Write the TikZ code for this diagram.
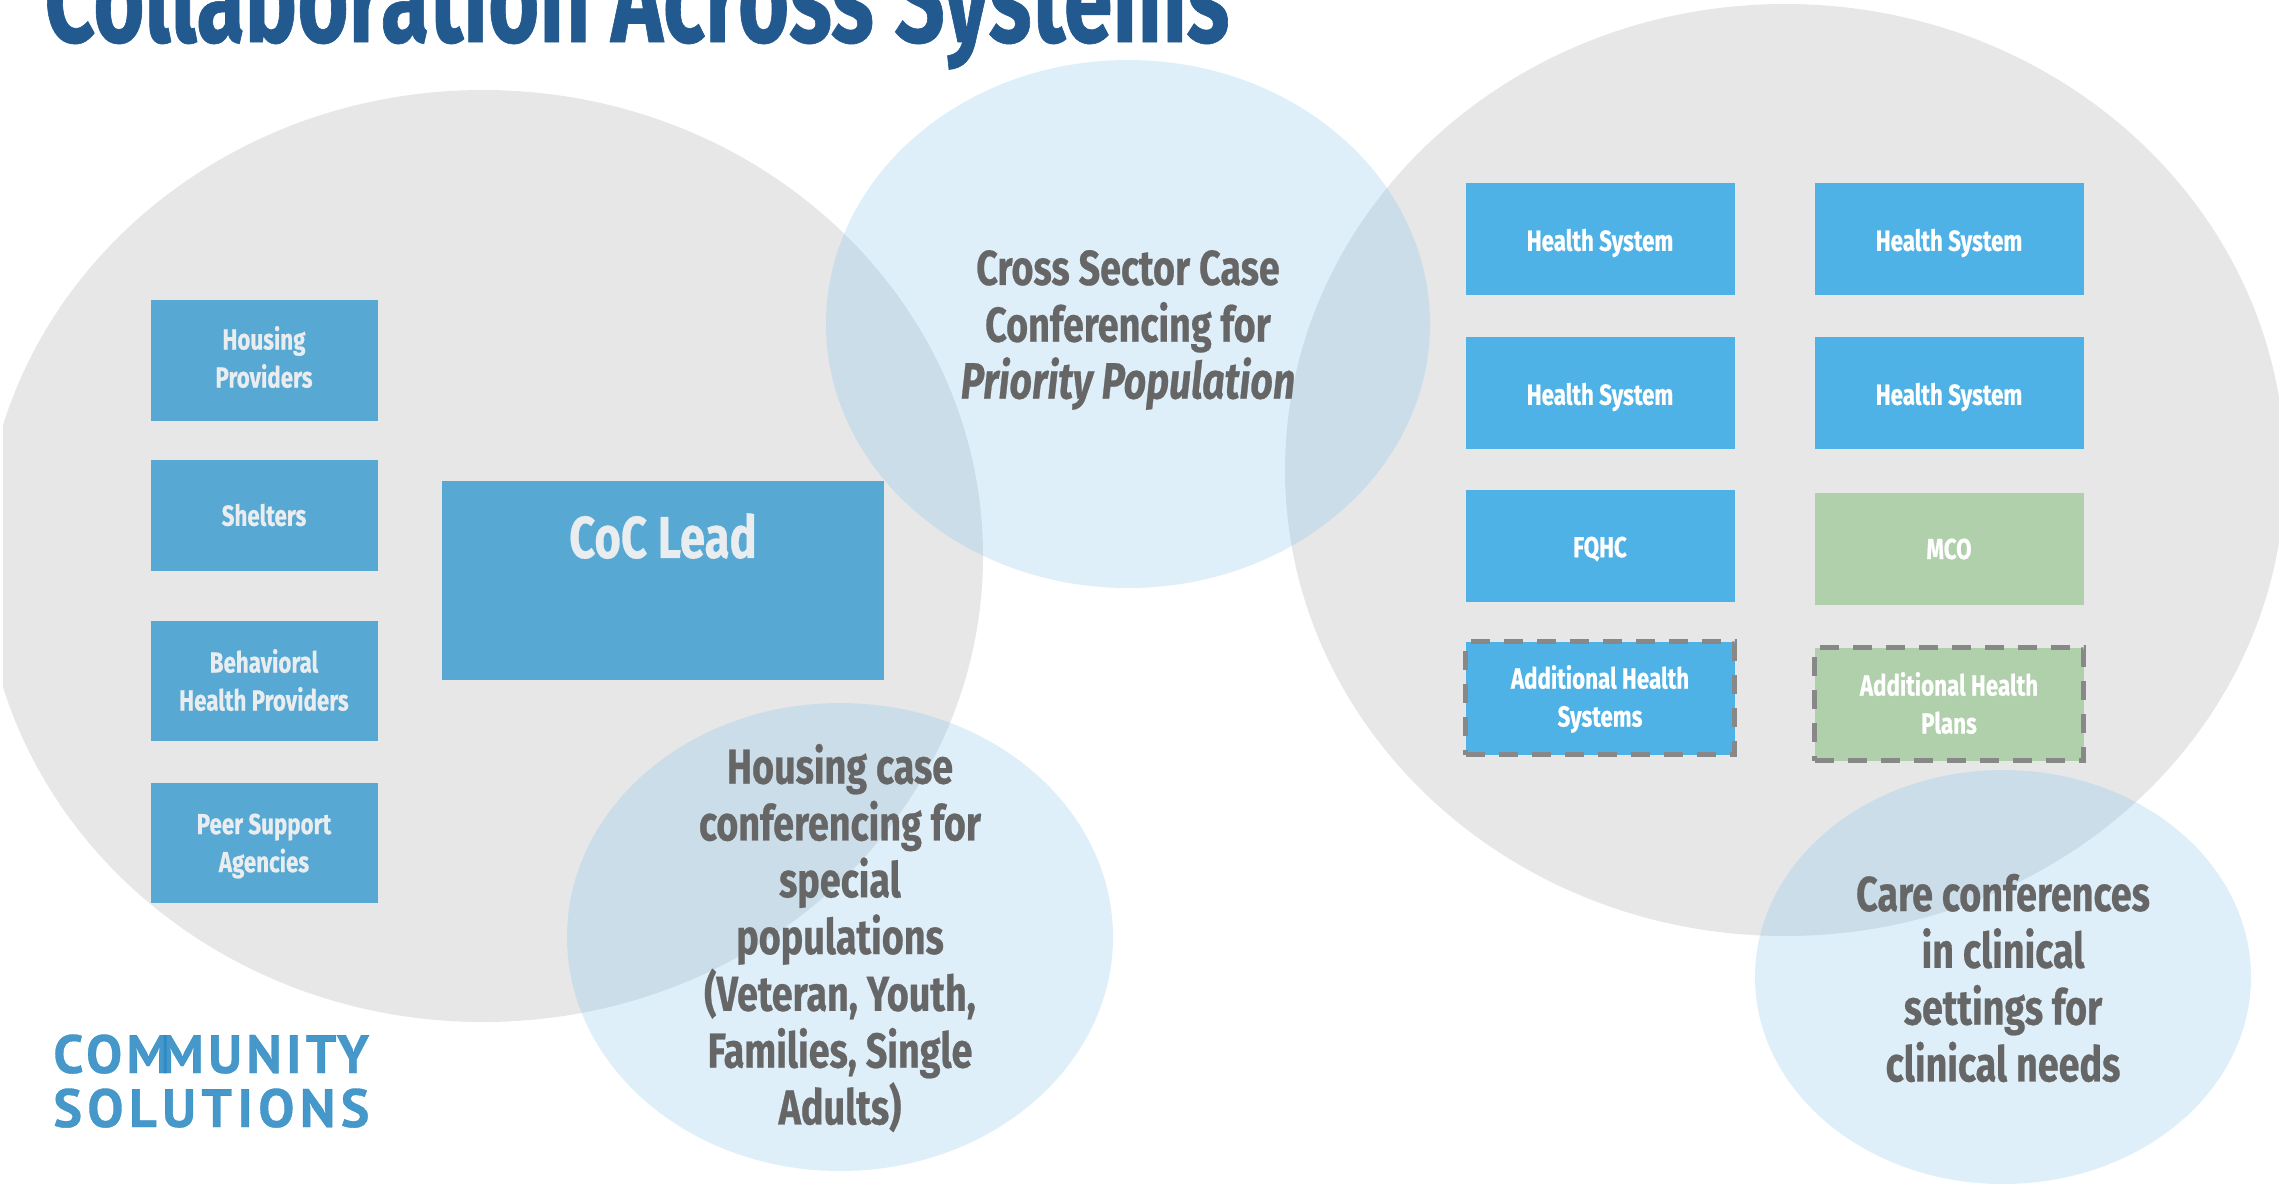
\documentclass[tikz,border=0pt]{standalone}
\usepackage{fontspec}
\usepackage{xcolor}
\setmainfont{Fira Sans}[FakeStretch=0.77, BoldFeatures={FakeBold=0.5}, BoldItalicFeatures={FakeBold=0.5}]
\newfontfamily\titlefont{Fira Sans}[FakeStretch=0.71, BoldFeatures={FakeBold=0.5}]
\newfontfamily\logofont{PT Sans}[LetterSpace=8, BoldFeatures={FakeBold=0.6}]
\newfontfamily\logowidefont{PT Sans}[LetterSpace=10, BoldFeatures={FakeBold=0.6}]
\definecolor{title_blue}{HTML}{22598F}
\definecolor{sector_gray}{HTML}{E7E7E7}
\definecolor{case_blue}{HTML}{7AC1EB}
\definecolor{coc_box}{HTML}{57A8D3}
\definecolor{health_box}{HTML}{4FB2E6}
\definecolor{plan_box}{HTML}{AFD0AB}
\definecolor{dash_gray}{HTML}{888888}
\definecolor{case_text}{HTML}{666666}
\definecolor{coc_text}{HTML}{E9EDEF}
\definecolor{logo_blue}{HTML}{2B8AC2}

\begin{document}
\begin{tikzpicture}[x={(.5pt,0)}, y={(0,-.5pt)}]
    \tikzstyle{box} = [inner sep = 0, minimum width = 134.5pt];
    \tikzstyle{boxtext} = [inner sep = 0, align = center, font = \bfseries\fontsize{14.5}{19}\selectfont];
    \tikzstyle{casetext} = [inner sep = 0, align = center, text = case_text, font = \bfseries\fontsize{24.5}{28.4}\selectfont];
    \tikzstyle{logotext} = [inner sep = 0, anchor = base west, text = logo_blue, text opacity = .88, font = \logofont\bfseries\fontsize{27}{27}\selectfont];
    \useasboundingbox (0,0) rectangle (2279,1185);
    \node[anchor = base west, inner sep = 0, text = title_blue, font = \titlefont\bfseries\fontsize{62}{62}\selectfont] (title) at (44,42) {Collaboration Across Systems};
    \begin{scope}
        \clip (3,0) rectangle (2279,1185);
        \fill[sector_gray] (483,556) ellipse [x radius = 500, y radius = 466];
    \end{scope}
    \fill[sector_gray] (1785,470) ellipse [x radius = 500, y radius = 466];
    \foreach \n/\x/\y/\w/\h/\c/\l/\ty/\t in {housing/264/360/227/121/coc_box/coc_text/357/{Housing\\Providers},
        shelters/264/515/227/111/coc_box/coc_text/515/{Shelters},
        behavioral/264/681/227/120/coc_box/coc_text/680/{Behavioral\\Health Providers},
        peer/264/843/227/120/coc_box/coc_text/846/{Peer Support\\Agencies},
        healtha/1600/239/269/112/health_box/white/243/{Health System},
        healthb/1949/239/269/112/health_box/white/243/{Health System},
        healthc/1600/393/269/112/health_box/white/397/{Health System},
        healthd/1949/393/269/112/health_box/white/397/{Health System},
        fqhc/1600/546/269/112/health_box/white/549/{FQHC},
        mco/1949/549/269/112/plan_box/white/549/{MCO}}
    {
    \node[box, fill = \c, minimum width = \w*.5pt, minimum height = \h*.5pt] (\n) at (\x,\y) {};
    \node[boxtext, text = \l] (\n label) at (\x,\ty) {\t};
    }
    \node[box, fill = coc_box, minimum width = 221pt, minimum height = 99.5pt] (coc) at (663,580) {};
    \node[boxtext, text = coc_text, font = \bfseries\fontsize{29.5}{29.5}\selectfont] (coc label) at (663,536) {CoC Lead};
    \foreach \n/\x/\y/\c/\ty/\t in {addhealth/1600/698/health_box/699/{Additional Health\\Systems},
        addplans/1949/704/plan_box/703/{Additional Health\\Plans}}
    {
    \node[box, fill = \c, draw = dash_gray, line width = 2.5pt, dash pattern = on 9.5pt off 7pt, minimum height = 56.5pt] (\n) at (\x,\y) {};
    \node[boxtext, text = white] (\n label) at (\x,\ty) {\t};
    }
    \fill[case_blue, opacity = .25] (1128,324) ellipse [x radius = 302, y radius = 264];
    \fill[case_blue, opacity = .25] (840,937) ellipse [x radius = 273, y radius = 234];
    \fill[case_blue, opacity = .25] (2003,977) ellipse [x radius = 248, y radius = 207];
    \node[casetext] (priority) at (1128,330) {Cross Sector Case\\Conferencing for\\\textit{\fontsize{25.5}{28.4}\selectfont Priority Population}};
    \node[casetext] (housingcase) at (840,938) {Housing case\\conferencing for\\special\\populations\\(Veteran, Youth,\\Families, Single\\Adults)};
    \node[casetext] (clinical) at (2003,978) {Care conferences\\in clinical\\settings for\\clinical needs};
    \node[logotext] (loga) at (53,1073) {COM};
    \node[logotext] (logb) at ([xshift = -5pt]loga.base east) {MUNITY};
    \node[logotext, font = \logowidefont\bfseries\fontsize{27}{27}\selectfont] (logc) at (53,1127) {SOLUTIONS};
\end{tikzpicture}
\end{document}
